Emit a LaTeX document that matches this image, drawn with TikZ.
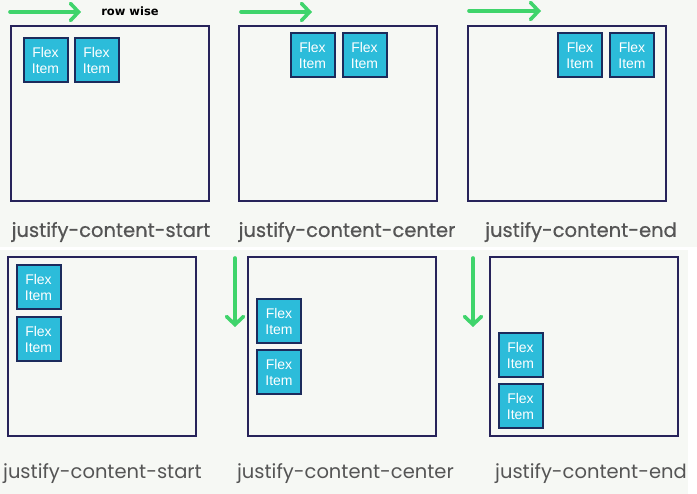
\documentclass[tikz,border=0pt]{standalone}
\usepackage{fontspec}
\setmainfont{Liberation Sans}
\newfontfamily\captionfont{Poppins}
\newfontfamily\heavycaptionfont[FakeBold=0.6]{Poppins}
\newfontfamily\notefont{DejaVu Sans}
\usetikzlibrary{arrows.meta}
\definecolor{paper}{HTML}{F6F8F4}
\definecolor{boxnavy}{HTML}{27235A}
\definecolor{itemcyan}{HTML}{2CBCDA}
\definecolor{itemedge}{HTML}{1C2B5C}
\definecolor{flowgreen}{HTML}{3FD46B}
\definecolor{captiongray}{HTML}{555555}
\tikzset{container/.style={draw=boxnavy, line width=1.6pt},
         flexitem/.style={draw=itemedge, fill=itemcyan, line width=2pt, minimum size=44pt,
                          inner sep=0pt, align=center, text=white, font=\fontsize{14}{16}\selectfont},
         caption/.style={text=captiongray, font=\captionfont\fontsize{19.5}{22}\selectfont},
         topcaption/.style={caption, font=\heavycaptionfont\fontsize{19.5}{22}\selectfont},
         flow/.style={draw=flowgreen, line width=3.6pt, line cap=round,
                      -{Straight Barb[length=8pt,width=17pt,line cap=round]}}}

\begin{document}
\begin{tikzpicture}[x=1pt,y=-1pt] % y runs downwards, like the screenshot
  \useasboundingbox (0,0) rectangle (697,494);
  \fill[white] (0,0) rectangle (697,494);
  \fill[paper] (0,0) rectangle (697,247);
  \fill[paper] (0,250) rectangle (688,494);

  % row wise
  \draw[container] (11,26) rectangle (209,201);
  \draw[container] (239,26) rectangle (437,201);
  \draw[container] (468,26) rectangle (666,201);
  \node[flexitem] (s1) at (45.5,60.5) {Flex\\Item};
  \node[flexitem] (s2) at (96.5,60.5) {Flex\\Item};
  \node[flexitem] (m1) at (312.5,55.5) {Flex\\Item};
  \node[flexitem] (m2) at (364.5,55.5) {Flex\\Item};
  \node[flexitem] (e1) at (580,55.5) {Flex\\Item};
  \node[flexitem] (e2) at (632,55.5) {Flex\\Item};
  \node[topcaption] (cs) at (111,232) {justify-content-start};
  \node[topcaption] (cm) at (347,232) {justify-content-center};
  \node[topcaption] (ce) at (581,232) {justify-content-end};
  \node[font=\notefont\bfseries\fontsize{11.5}{13}\selectfont] (rw) at (130,11) {row wise};
  \coordinate (r1a) at (10,12);   \coordinate (r1b) at (81,12);
  \coordinate (r2a) at (241,12);  \coordinate (r2b) at (312,12);
  \coordinate (r3a) at (469,11);  \coordinate (r3b) at (541,11);
  \foreach \a/\b in {r1a/r1b, r2a/r2b, r3a/r3b}
    \draw[flow] (\a) -- (\b);

  % column wise
  \draw[container] (8,257) rectangle (196,436);
  \draw[container] (248,257) rectangle (436,436);
  \draw[container] (490,257) rectangle (678,436);
  \node[flexitem] (vs1) at (38.5,287.5) {Flex\\Item};
  \node[flexitem] (vs2) at (38.5,339) {Flex\\Item};
  \node[flexitem] (vm1) at (279,321.5) {Flex\\Item};
  \node[flexitem] (vm2) at (279,372.5) {Flex\\Item};
  \node[flexitem] (ve1) at (520.5,355.5) {Flex\\Item};
  \node[flexitem] (ve2) at (520.5,406.5) {Flex\\Item};
  \node[caption] (vcs) at (102.5,474) {justify-content-start};
  \node[caption] (vcm) at (345.5,474) {justify-content-center};
  \node[caption] (vce) at (591,474) {justify-content-end};
  \coordinate (d1a) at (235,258); \coordinate (d1b) at (235,327);
  \coordinate (d2a) at (473,258); \coordinate (d2b) at (473,327);
  \foreach \a/\b in {d1a/d1b, d2a/d2b}
    \draw[flow] (\a) -- (\b);
\end{tikzpicture}
\end{document}
